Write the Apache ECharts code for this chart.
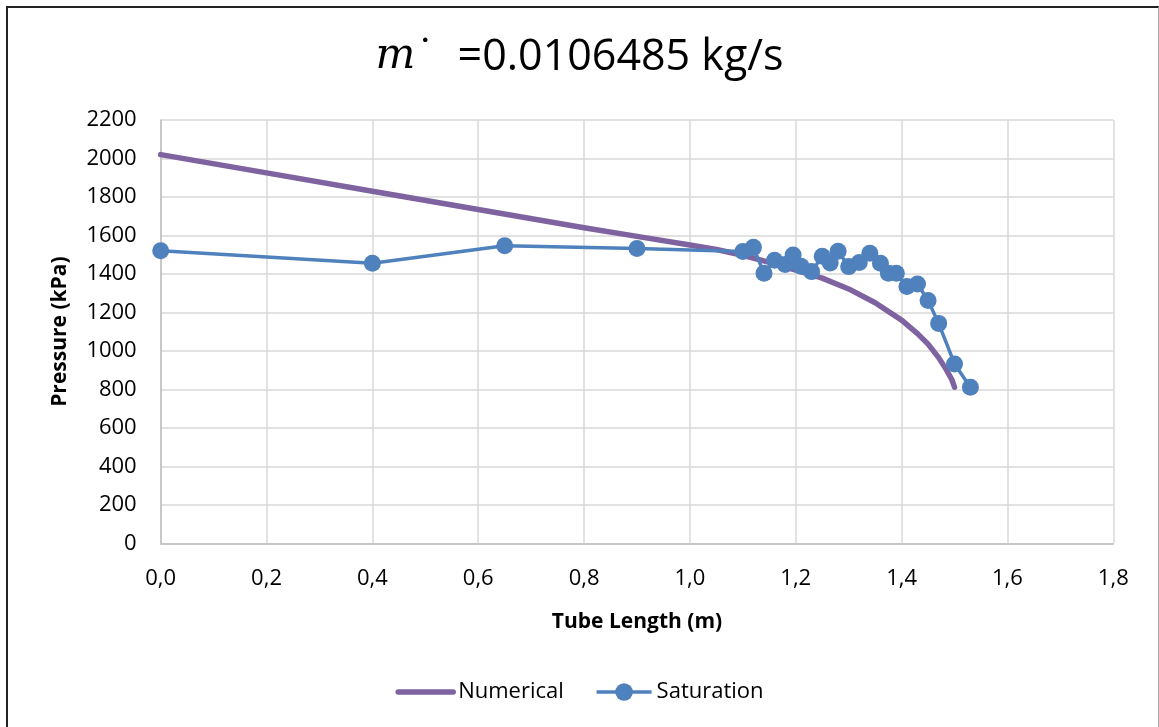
<!DOCTYPE html>
<html>
<head>
<meta charset="utf-8">
<script src="https://cdn.jsdelivr.net/npm/echarts@6/dist/echarts.min.js"></script>
<style>
  html, body { margin: 0; padding: 0; background: #fff; }
  #chart { position: absolute; left: 0; top: 0; width: 1159px; height: 727px; }
  #frame {
    position: absolute; left: 6px; top: 6px; width: 1150px; height: 740px;
    border-left: 2px solid #222; border-top: 2px solid #222; border-right: 1px solid #aaa;
    pointer-events: none;
  }
</style>
</head>
<body>
<div id="chart"></div>
<div id="frame"></div>
<script>
// Numerical model
const numLength = [0, 0.2, 0.4, 0.6, 0.8, 0.9, 1.0, 1.05, 1.1, 1.15, 1.2, 1.25, 1.3, 1.35, 1.4, 1.43, 1.45, 1.47, 1.485, 1.495, 1.5];
const numPressure = [2020, 1925, 1830, 1735, 1640, 1595, 1550, 1527, 1497, 1460, 1420, 1378, 1322, 1250, 1160, 1090, 1035, 965, 900, 850, 812];

// Saturation pressure measurements
const satLength = [0, 0.4, 0.65, 0.9, 1.1, 1.12, 1.14, 1.16, 1.18, 1.195, 1.21, 1.23, 1.25, 1.265, 1.28, 1.3, 1.32, 1.34, 1.36, 1.375, 1.39, 1.41, 1.43, 1.45, 1.47, 1.5, 1.53];
const satPressure = [1520, 1455, 1547, 1532, 1516, 1538, 1403, 1471, 1449, 1498, 1440, 1412, 1492, 1457, 1518, 1438, 1459, 1507, 1455, 1403, 1403, 1335, 1348, 1262, 1143, 932, 811];

const chart = echarts.init(document.getElementById('chart'));

const zip = (xs, ys) => xs.map((x, i) => [x, ys[i]]);
const font = '"Open Sans", "Noto Sans", sans-serif';
const purple = '#7f63a1';
const blue = '#4f81bd';

const option = {
  animation: false,
  textStyle: { fontFamily: font, color: '#000' },
  title: {
    text: '{m|m}{d|˙}{t|  =0.0106485 kg/s}',
    left: 'center',
    top: 31,
    textStyle: {
      fontWeight: 'normal',
      rich: {
        m: { fontFamily: '"DejaVu Serif"', fontStyle: 'italic', fontWeight: 'normal', fontSize: 42, color: '#000' },
        d: { fontFamily: '"DejaVu Serif"', fontWeight: 'normal', fontSize: 40, color: '#000' },
        t: { fontFamily: font, fontWeight: 'normal', fontSize: 43, color: '#000' }
      }
    }
  },
  grid: {
    left: 160.7,
    right: 45.7,
    top: 120,
    bottom: 183.7,
    containLabel: false
  },
  legend: {
    left: 'center',
    top: 676,
    itemWidth: 55,
    itemHeight: 22,
    itemGap: 31,
    textStyle: { fontFamily: font, fontSize: 22, color: '#000' },
    data: [
      { name: 'Numerical', itemStyle: { opacity: 0 }, lineStyle: { width: 5.5, color: purple } },
      { name: 'Saturation', lineStyle: { width: 3.5, color: blue } }
    ]
  },
  xAxis: {
    type: 'value',
    min: 0,
    max: 1.8,
    interval: 0.2,
    name: 'Tube Length (m)',
    nameLocation: 'middle',
    nameGap: 68,
    nameTextStyle: { fontFamily: font, fontSize: 21, fontWeight: 'bold', color: '#000' },
    axisLine: { show: true, lineStyle: { color: '#bfbfbf', width: 1.5 } },
    axisTick: { show: false },
    axisLabel: {
      fontSize: 22,
      color: '#000',
      margin: 24,
      formatter: v => v.toFixed(1).replace('.', ',')
    },
    splitLine: { show: true, lineStyle: { color: '#d9d9d9', width: 1.5 } }
  },
  yAxis: {
    type: 'value',
    min: 0,
    max: 2200,
    interval: 200,
    name: 'Pressure (kPa)',
    nameLocation: 'middle',
    nameGap: 90,
    nameTextStyle: { fontFamily: font, fontSize: 21, fontWeight: 'bold', color: '#000' },
    axisLine: { show: true, lineStyle: { color: '#bfbfbf', width: 1.5 } },
    axisTick: { show: false },
    axisLabel: { fontSize: 22, color: '#000', margin: 24, formatter: v => String(v) },
    splitLine: { show: true, lineStyle: { color: '#d9d9d9', width: 1.5 } }
  },
  series: [
    {
      name: 'Numerical',
      type: 'line',
      data: zip(numLength, numPressure),
      symbol: 'none',
      lineStyle: { color: purple, width: 5.5, cap: 'round', join: 'round' },
      itemStyle: { color: purple },
      z: 2
    },
    {
      name: 'Saturation',
      type: 'line',
      data: zip(satLength, satPressure),
      symbol: 'circle',
      symbolSize: 17,
      lineStyle: { color: blue, width: 3.5 },
      itemStyle: { color: blue },
      z: 3
    }
  ]
};

chart.setOption(option);
</script>
</body>
</html>
